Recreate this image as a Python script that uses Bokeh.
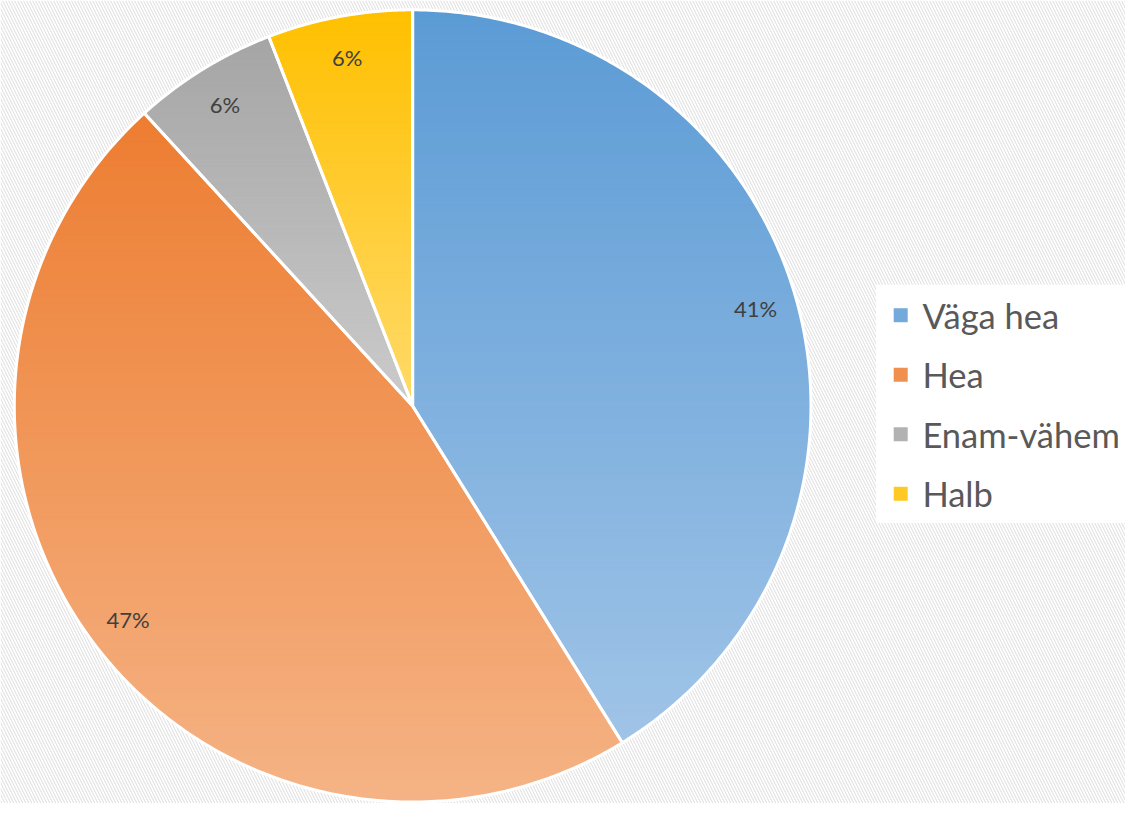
import numpy as np
from bokeh.plotting import figure
from bokeh.models import Range1d
from bokeh.core.properties import value
from bokeh.embed import file_html
from bokeh.resources import INLINE

# ---- data ----
categories = ["Väga hea", "Hea", "Enam-vähem", "Halb"]
counts = [7, 8, 1, 1]
top_colors = ["#5B9BD5", "#ED7D31", "#A5A5A5", "#FFC000"]
bottom_colors = ["#A0C4E7", "#F5B385", "#CBCBCB", "#FFDA6A"]

# ---- layout constants (reference pixel space, y up) ----
W, H = 1141, 819
CX, CY, R = 418.0, 405.5, 404.0
LABEL_R = 0.895 * R

p = figure(width=1125, height=803, x_range=Range1d(0, W), y_range=Range1d(0, H),
           output_backend="svg", toolbar_location=None, min_border=0)
p.axis.visible = False
p.grid.visible = False
p.outline_line_color = None
p.background_fill_color = "white"
p.border_fill_color = "white"

# striped background
p.quad(left=0, right=W, bottom=0, top=H, fill_color="white", line_alpha=0,
       hatch_pattern="\\", hatch_color="#E2E2E2", hatch_weight=1.1, hatch_scale=6)


def hex2rgb(h):
    h = h.lstrip("#")
    return np.array([int(h[i:i + 2], 16) for i in (0, 2, 4)], dtype=float)


def mix(c1, c2, t):
    c = hex2rgb(c1) * (1 - t) + hex2rgb(c2) * t
    return "#%02x%02x%02x" % tuple(int(round(v)) for v in c)


def clip(poly, y, keep_above):
    out = []
    n = len(poly)
    for i in range(n):
        cx, cy = poly[i]
        px, py = poly[i - 1]
        cin = cy >= y if keep_above else cy <= y
        pin = py >= y if keep_above else py <= y
        if cin:
            if not pin:
                t = (y - py) / (cy - py)
                out.append((px + t * (cx - px), y))
            out.append((cx, cy))
        elif pin:
            t = (y - py) / (cy - py)
            out.append((px + t * (cx - px), y))
    return out


total = float(sum(counts))
fracs = [c / total for c in counts]
cum = np.concatenate([[0.0], np.cumsum(fracs)])

band_xs, band_ys, band_cols = [], [], []
out_xs, out_ys = [], []
lab_x, lab_y, lab_t = [], [], []
NB = 90
for i, cat in enumerate(categories):
    a0 = np.pi / 2 - 2 * np.pi * cum[i]
    a1 = np.pi / 2 - 2 * np.pi * cum[i + 1]
    ang = np.linspace(a0, a1, 240)
    poly = [(CX, CY)] + [(CX + R * np.cos(a), CY + R * np.sin(a)) for a in ang]
    out_xs.append([q[0] for q in poly])
    out_ys.append([q[1] for q in poly])
    ys_all = [q[1] for q in poly]
    ymin, ymax = min(ys_all), max(ys_all)
    edges = np.linspace(ymax, ymin, NB + 1)
    for k in range(NB):
        hi, lo = edges[k] + 0.4, edges[k + 1] - 0.4
        part = clip(clip(poly, lo, True), hi, False)
        if len(part) < 3:
            continue
        t = (k + 0.5) / NB
        band_xs.append([q[0] for q in part])
        band_ys.append([q[1] for q in part])
        band_cols.append(mix(top_colors[i], bottom_colors[i], t))
    mid = (a0 + a1) / 2
    lab_x.append(CX + LABEL_R * np.cos(mid))
    lab_y.append(CY + LABEL_R * np.sin(mid))
    lab_t.append("%d%%" % round(100 * fracs[i]))

p.patches(xs=band_xs, ys=band_ys, fill_color=band_cols, line_color=band_cols, line_width=0.8)
p.patches(xs=out_xs, ys=out_ys, fill_alpha=0, line_color="white", line_width=3, line_join="round")

p.text(x=lab_x, y=lab_y, text=lab_t, text_font=value("Lato"), text_font_size="22px",
       text_align="center", text_baseline="middle", text_color="#404040")

# legend
p.quad(left=888, right=W, bottom=H - 533, top=H - 290, fill_color="white", line_alpha=0)
leg_y = [H - 321 - 60.7 * i for i in range(len(categories))]
leg_cols = [mix(top_colors[i], bottom_colors[i], 0.35) for i in range(len(categories))]
p.scatter(x=[913] * len(categories), y=leg_y, marker="square", size=14,
          fill_color=leg_cols, line_color=None)
p.text(x=[935] * len(categories), y=leg_y, text=categories, text_font=value("Lato"),
       text_font_size="34.5px", text_align="left", text_baseline="middle", text_color="#595959")

open("out.html", "w").write(file_html(p, INLINE))
